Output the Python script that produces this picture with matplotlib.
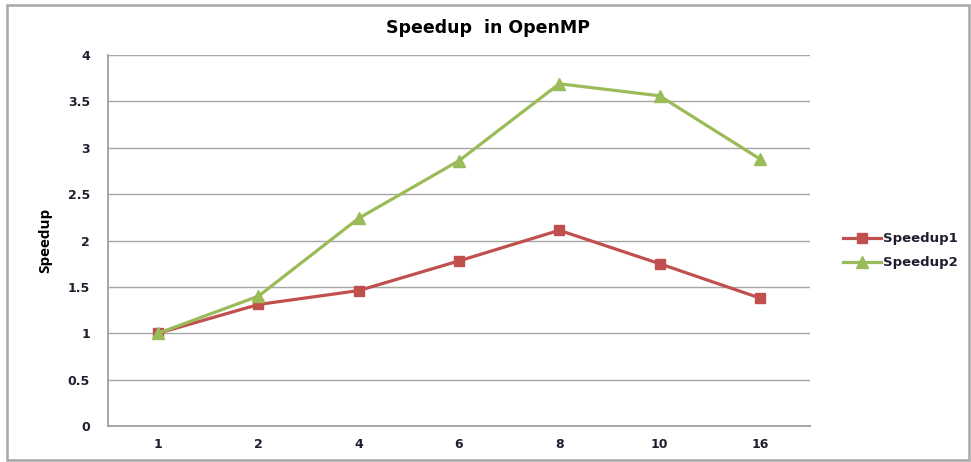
import matplotlib
matplotlib.use("Agg")
import matplotlib.pyplot as plt
from matplotlib.patches import Rectangle

categories = ["1", "2", "4", "6", "8", "10", "16"]
speedup1 = [1.00, 1.31, 1.46, 1.78, 2.11, 1.75, 1.38]
speedup2 = [1.00, 1.40, 2.24, 2.86, 3.69, 3.56, 2.88]
yticks = [0, 0.5, 1, 1.5, 2, 2.5, 3, 3.5, 4]
ytick_labels = ["0", "0.5", "1", "1.5", "2", "2.5", "3", "3.5", "4"]

plt.rcParams['font.family'] = ['DejaVu Sans']
text_color = "#1F1F2F"

W, H = 971, 462
fig = plt.figure(figsize=(W/100, H/100), dpi=100)
fig.patch.set_facecolor("white")

# outer chart border
fig.add_artist(Rectangle((7/W, 2/H), (W-9)/W, (H-7)/H, transform=fig.transFigure,
                         fill=False, edgecolor="#A6A6A6", linewidth=1.8))

ax = fig.add_axes([108/W, 36/H, 702/W, 371/H])
x = list(range(len(categories)))
ax.plot(x, speedup1, color="#C0504D", linewidth=2.3, marker="s", markersize=7,
        label="Speedup1", zorder=3)
ax.plot(x, speedup2, color="#9BBB59", linewidth=2.3, marker="^", markersize=8,
        label="Speedup2", zorder=3)

ax.set_xlim(-0.5, len(categories) - 0.5)
ax.set_ylim(0, 4)
ax.set_yticks(yticks)
ax.set_yticklabels(ytick_labels)
ax.set_xticks(x)
ax.set_xticklabels(categories)
ax.grid(axis="y", color="#A6A6A6", linewidth=1.0)
ax.set_axisbelow(True)
for s in ["top", "right"]:
    ax.spines[s].set_visible(False)
for s in ["left", "bottom"]:
    ax.spines[s].set_color("#A6A6A6")
    ax.spines[s].set_linewidth(1.4)
ax.tick_params(axis="both", length=0, labelsize=9, colors=text_color)
ax.tick_params(axis="y", pad=13)
ax.tick_params(axis="x", pad=9)
for lbl in ax.get_xticklabels() + ax.get_yticklabels():
    lbl.set_fontweight("bold")

ax.set_ylabel("Speedup", fontsize=11, fontweight="bold", color="black", labelpad=11,
              family=["Open Sans", "DejaVu Sans"])
fig.text(488/W, 1 - 28/H, "Speedup  in OpenMP", ha="center", va="center",
         fontsize=12.5, fontweight="bold", color="black")

leg = ax.legend(loc="center left", bbox_to_anchor=(1.03, 0.472), frameon=False,
                fontsize=9.5, handlelength=2.9, handletextpad=0.1, labelspacing=0.85)
for t in leg.get_texts():
    t.set_fontweight("bold")
    t.set_color(text_color)

fig.savefig("out.png", dpi=100)
